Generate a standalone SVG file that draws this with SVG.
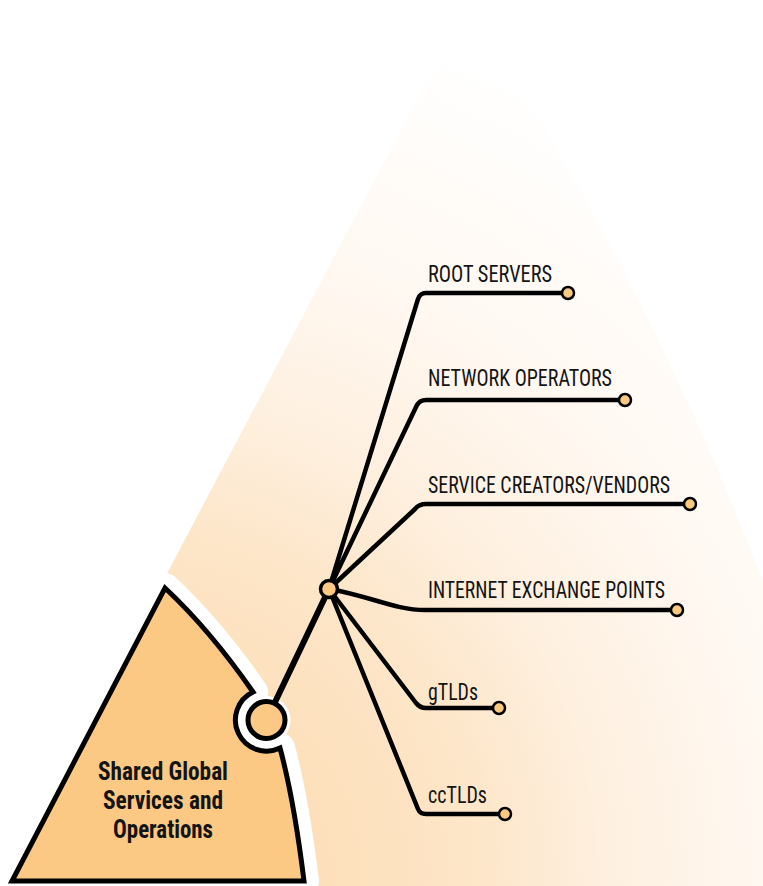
<svg xmlns="http://www.w3.org/2000/svg" width="763" height="886" viewBox="0 0 763 886">
<defs>
<radialGradient id="bg" gradientUnits="userSpaceOnUse" cx="120" cy="886" r="900">
<stop offset="0" stop-color="#FCD9A8"/>
<stop offset="0.3" stop-color="#FDE2C0"/>
<stop offset="0.4" stop-color="#FDE6C9"/>
<stop offset="0.55" stop-color="#FEF0E0"/>
<stop offset="0.72" stop-color="#FFF8F1"/>
<stop offset="0.88" stop-color="#FFFCF9"/>
<stop offset="1" stop-color="#FFFFFF"/>
</radialGradient>
<style>
.br{fill:none;stroke:#000;stroke-width:4.5;stroke-linejoin:round;stroke-linecap:round}
.dot{fill:#F9C97F;stroke:#000;stroke-width:2.5}
.lbl{font-family:"Liberation Sans Narrow","Roboto Condensed","Liberation Sans",Arial,sans-serif;font-size:23px;fill:#141414}
.main{font-family:"Liberation Sans Narrow","Roboto Condensed","Liberation Sans",Arial,sans-serif;font-size:25px;font-weight:bold;fill:#141414}
</style>
</defs>
<rect width="763" height="886" fill="#FFFFFF"/>
<path id="background" d="M467,5 L0,890 L770,890 L770,600 Q650,280 467,5 Z" fill="url(#bg)"/>
<g id="sector">
<path d="M165,588 Q210,630 253,692 A30,30 0 1 0 280,748 Q294,800 304,881 L12,881 Z" fill="none" stroke="#FFFFFF" stroke-width="30" stroke-linejoin="round"/>
<circle cx="266.5" cy="720" r="24" fill="#FFFFFF"/>
<path d="M165,588 Q210,630 253,692 A30,30 0 1 0 280,748 Q294,800 304,881 L12,881 Z" fill="#FBC983" stroke="#000" stroke-width="5" stroke-linejoin="miter"/>
<text class="main" x="163" y="780" text-anchor="middle" textLength="130" lengthAdjust="spacingAndGlyphs">Shared Global</text>
<text class="main" x="163" y="809" text-anchor="middle" textLength="120" lengthAdjust="spacingAndGlyphs">Services and</text>
<text class="main" x="163" y="838" text-anchor="middle" textLength="100" lengthAdjust="spacingAndGlyphs">Operations</text>
</g>
<g id="connectors">
<path d="M266.5,720 L329,589" fill="none" stroke="#000" stroke-width="6" stroke-linecap="round"/>
<path class="br" d="M329,589 L418,299 Q420,293 426,293 L568,293"/>
<path class="br" d="M329,589 L417,405 Q420,400 426,400 L625,400"/>
<path class="br" d="M329,589 L415,509 Q419,504 426,504 L690,504"/>
<path class="br" d="M329,589 C370,596 395,610 425,610 L677,610"/>
<path class="br" d="M329,589 L416,703 Q420,708 426,708 L499,708"/>
<path class="br" d="M329,589 L418,809 Q420,814 426,814 L505,814"/>
</g>
<g id="node-source"><circle cx="266.5" cy="720" r="18.5" fill="#FBC983" stroke="#000" stroke-width="5"/></g>
<g id="hub"><circle cx="329" cy="589" r="8.5" fill="#FBC983" stroke="#000" stroke-width="3.5"/></g>
<g id="root-servers"><circle class="dot" cx="568" cy="293" r="6"/><text class="lbl" x="428" y="282" textLength="124" lengthAdjust="spacingAndGlyphs">ROOT SERVERS</text></g>
<g id="network-operators"><circle class="dot" cx="625" cy="400" r="6"/><text class="lbl" x="428" y="386" textLength="184" lengthAdjust="spacingAndGlyphs">NETWORK OPERATORS</text></g>
<g id="service-creators"><circle class="dot" cx="690" cy="504" r="6"/><text class="lbl" x="428" y="493" textLength="242" lengthAdjust="spacingAndGlyphs">SERVICE CREATORS/VENDORS</text></g>
<g id="ixp"><circle class="dot" cx="677" cy="610" r="6"/><text class="lbl" x="428" y="598" textLength="237" lengthAdjust="spacingAndGlyphs">INTERNET EXCHANGE POINTS</text></g>
<g id="gtlds"><circle class="dot" cx="499" cy="708" r="6"/><text class="lbl" x="428" y="700" textLength="50" lengthAdjust="spacingAndGlyphs">gTLDs</text></g>
<g id="cctlds"><circle class="dot" cx="505" cy="814" r="6"/><text class="lbl" x="428" y="803" textLength="59" lengthAdjust="spacingAndGlyphs">ccTLDs</text></g>
</svg>
